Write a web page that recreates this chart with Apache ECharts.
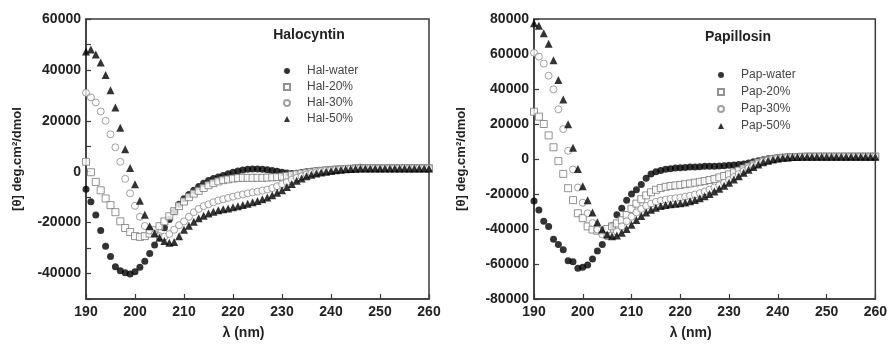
<!DOCTYPE html>
<html><head><meta charset="utf-8">
<script src="https://cdn.jsdelivr.net/npm/echarts@6/dist/echarts.min.js"></script>
<style>html,body{margin:0;padding:0;background:#fff}#c{width:890px;height:345px}</style>
</head><body><div id="c"></div>
<script>
// wavelengths 190..260 nm, 1 nm steps
const lambda = [190,191,192,193,194,195,196,197,198,199,200,201,202,203,204,205,206,207,208,209,210,211,212,213,214,215,216,217,218,219,220,221,222,223,224,225,226,227,228,229,230,231,232,233,234,235,236,237,238,239,240,241,242,243,244,245,246,247,248,249,250,251,252,253,254,255,256,257,258,259,260];

const halWater = [-6900,-11800,-17000,-23100,-29300,-33300,-37300,-38900,-39700,-40200,-39300,-37500,-35200,-32100,-28800,-25600,-22000,-18800,-15600,-12800,-10600,-8900,-7300,-5800,-4500,-3400,-2700,-2100,-1500,-800,-200,300,700,1000,1100,1100,1000,800,500,200,-200,-500,-700,-600,-300,0,200,400,500,600,700,800,900,1000,1100,1500,1800,1400,1300,1300,1300,1300,1300,1300,1300,1300,1200,1200,1200,1200,1200];
const hal20 = [3900,-200,-4000,-7300,-10500,-13100,-15900,-19500,-22100,-23700,-25300,-25600,-25300,-24300,-23000,-21400,-19500,-17500,-15500,-13500,-11700,-10000,-8600,-7500,-6400,-5300,-4500,-3800,-3300,-3000,-2700,-2500,-2400,-2400,-2400,-2400,-2400,-2300,-2200,-2100,-1900,-1600,-1300,-1000,-700,-400,-100,200,400,600,700,900,1000,1100,1200,1300,1400,1400,1400,1400,1400,1400,1400,1400,1400,1400,1400,1400,1400,1400,1400];
const hal30 = [31000,29200,27200,23700,20000,14700,9600,3900,-2800,-8500,-13400,-17700,-21300,-23100,-24500,-25300,-25500,-24500,-22800,-21000,-19500,-17700,-15900,-14600,-13500,-12800,-12000,-11300,-10800,-10300,-9800,-9300,-8900,-8500,-8100,-7800,-7400,-7000,-6400,-5700,-4900,-4000,-3100,-2400,-1800,-1100,-600,-200,200,400,600,800,1000,1100,1200,1300,1400,1400,1400,1400,1400,1400,1400,1400,1400,1400,1400,1400,1400,1400,1400];
const hal50 = [47200,48000,46100,42900,38000,32000,25200,17300,8800,1500,-4900,-11400,-16900,-21400,-24200,-25900,-27200,-27900,-27600,-25300,-22800,-21200,-19700,-18300,-17300,-16400,-15700,-15100,-14700,-14400,-14000,-13600,-13100,-12600,-12000,-11500,-10800,-10100,-9200,-8300,-7300,-6000,-4800,-3500,-2700,-1800,-1200,-700,-300,0,300,600,800,1000,1100,1200,1300,1300,1300,1300,1300,1300,1300,1300,1300,1300,1300,1300,1300,1300,1300];

const papWater = [-24000,-29100,-35600,-38500,-45900,-48800,-51900,-58100,-58700,-62400,-61800,-60500,-57200,-52500,-48800,-44100,-38100,-31900,-28200,-23500,-20000,-17500,-14500,-11000,-8500,-7300,-6500,-5900,-5500,-5200,-5000,-4800,-4600,-4500,-4400,-4200,-4100,-4100,-4000,-3800,-3600,-3400,-3200,-2800,-2300,-1600,-1000,-400,100,500,800,1000,1100,1200,1300,1300,1400,1500,1500,1500,1500,1500,1400,1400,1400,1400,1300,1300,1200,1200,1100];
const pap20 = [27000,24200,20000,13500,6700,-1200,-8500,-16700,-23500,-31000,-33800,-38500,-40300,-41000,-41000,-40000,-38500,-36800,-35000,-32000,-28500,-25500,-23000,-20800,-19000,-17600,-16600,-15900,-15400,-15100,-14800,-14400,-14000,-13500,-13000,-12600,-12000,-11400,-10500,-9700,-8800,-7700,-6600,-5400,-4300,-3100,-2000,-1200,-600,0,400,700,900,1100,1200,1300,1400,1400,1400,1400,1400,1400,1400,1400,1400,1400,1400,1400,1400,1400,1400];
const pap30 = [60700,58500,54500,47600,39800,28400,17100,4700,-6000,-16300,-25000,-31000,-36600,-40300,-43100,-44100,-43700,-41500,-38500,-35500,-33000,-30500,-28500,-26800,-25500,-24500,-23700,-23200,-22800,-22400,-22000,-21500,-21000,-20300,-19500,-18600,-17500,-16300,-15000,-13500,-12000,-10300,-8600,-6900,-5300,-3900,-2600,-1500,-700,0,500,800,1000,1100,1200,1300,1400,1400,1400,1400,1400,1400,1400,1400,1400,1400,1400,1400,1400,1400,1400];
const pap50 = [77600,76100,71900,65800,56400,45200,34000,19900,6500,-5700,-15600,-23500,-30600,-36200,-40300,-43100,-44100,-43700,-42200,-40000,-37500,-34800,-32500,-30500,-29000,-27800,-26900,-26300,-25900,-25600,-25300,-24800,-24200,-23400,-22400,-21300,-20000,-18600,-17000,-15300,-13500,-11700,-9800,-7900,-6100,-4500,-3100,-1900,-1000,-300,300,700,900,1100,1200,1300,1300,1300,1300,1300,1300,1300,1300,1300,1300,1300,1300,1300,1300,1300,1300];

const halNames = ['Hal-water','Hal-20%','Hal-30%','Hal-50%'];
const papNames = ['Pap-water','Pap-20%','Pap-30%','Pap-50%'];
const titles = ['Halocyntin','Papillosin'];
const xTicks = {min:190, max:260, step:10};
const yTitle = '[\u03b8] deg.cm\u00b2/dmol';
const xTitle = '\u03bb (nm)';

const FONT = '"Liberation Sans", Arial, sans-serif';
const axisCol = '#3a3a3a';
const styles = [
  {symbol:'circle', size:7, itemStyle:{color:'#000'}},
  {symbol:'rect', size:7, itemStyle:{color:'#fff', borderColor:'#777', borderWidth:1}},
  {symbol:'circle', size:7, itemStyle:{color:'#fff', borderColor:'#888', borderWidth:1}},
  {symbol:'triangle', size:8, itemStyle:{color:'#000'}}
];

function pairs(arr){ return lambda.map((x,i)=>[x,arr[i]]); }

function xAx(gi){
  return {type:'value', gridIndex:gi, min:xTicks.min, max:xTicks.max, interval:xTicks.step,
    name:xTitle, nameLocation:'middle', nameGap:27,
    nameTextStyle:{fontFamily:FONT, fontWeight:'bold', fontSize:14, color:'#222', padding:[0,28,0,0]},
    axisLine:{show:true, onZero:false, lineStyle:{color:axisCol, width:1.5}},
    axisTick:{show:true, inside:true, length:5, lineStyle:{color:axisCol, width:1.2}},
    axisLabel:{fontFamily:FONT, fontWeight:'bold', fontSize:14, color:'#222', margin:6},
    splitLine:{show:false}};
}
function yAx(gi, min, max, interval, labelEvery, gap){
  return {type:'value', gridIndex:gi, min:min, max:max, interval:interval,
    name:yTitle, nameLocation:'middle', nameGap:gap, nameRotate:90,
    nameTextStyle:{fontFamily:FONT, fontWeight:'bold', fontSize:13, color:'#222'},
    axisLine:{show:true, onZero:false, lineStyle:{color:axisCol, width:1.5}},
    axisTick:{show:true, inside:true, length:5, lineStyle:{color:axisCol, width:1.2}},
    axisLabel:{fontFamily:FONT, fontWeight:'bold', fontSize:14, color:'#222', margin:5,
      formatter:function(v){ return (Math.round(v) % labelEvery === 0) ? String(v) : ''; },
      showMinLabel:true, showMaxLabel:true},
    splitLine:{show:false}};
}

const halData = [halWater, hal20, hal30, hal50];
const papData = [papWater, pap20, pap30, pap50];
const series = [];
halNames.forEach((n,i)=>series.push({name:n, type:'scatter', xAxisIndex:0, yAxisIndex:0,
  symbol:styles[i].symbol, symbolSize:styles[i].size, itemStyle:styles[i].itemStyle, data:pairs(halData[i]), z:2+i}));
papNames.forEach((n,i)=>series.push({name:n, type:'scatter', xAxisIndex:1, yAxisIndex:1,
  symbol:styles[i].symbol, symbolSize:styles[i].size, itemStyle:styles[i].itemStyle, data:pairs(papData[i]), z:2+i}));

const legendBase = {orient:'vertical', padding:0, itemWidth:6, itemHeight:6,
  textStyle:{fontFamily:FONT, fontSize:12, color:'#444', padding:[0,0,0,12]}, selectedMode:false};

const option = {
  backgroundColor:'#fff',
  animation:false,
  grid:[
    {left:86, top:19, width:343, height:285, show:true, borderColor:axisCol, borderWidth:1.5, backgroundColor:'transparent'},
    {left:534, top:19, width:344, height:285, show:true, borderColor:axisCol, borderWidth:1.5, backgroundColor:'transparent'}
  ],
  xAxis:[xAx(0), xAx(1)],
  yAxis:[yAx(0,-50000,60000,10000,20000,62), yAx(1,-80000,80000,20000,20000,66)],
  legend:[
    Object.assign({}, legendBase, {data:halNames, left:283, top:65, itemGap:4}),
    Object.assign({}, legendBase, {data:papNames, left:717, top:69, itemGap:5})
  ],
  graphic:[
    {type:'text', x:309, y:35, style:{text:titles[0], font:'bold 14px '+FONT, fill:'#222', textAlign:'center', textVerticalAlign:'middle'}},
    {type:'text', x:738, y:37, style:{text:titles[1], font:'bold 14px '+FONT, fill:'#222', textAlign:'center', textVerticalAlign:'middle'}}
  ],
  series:series
};
const chart = echarts.init(document.getElementById('c'), null, {renderer:'canvas'});
chart.setOption(option);
</script></body></html>
